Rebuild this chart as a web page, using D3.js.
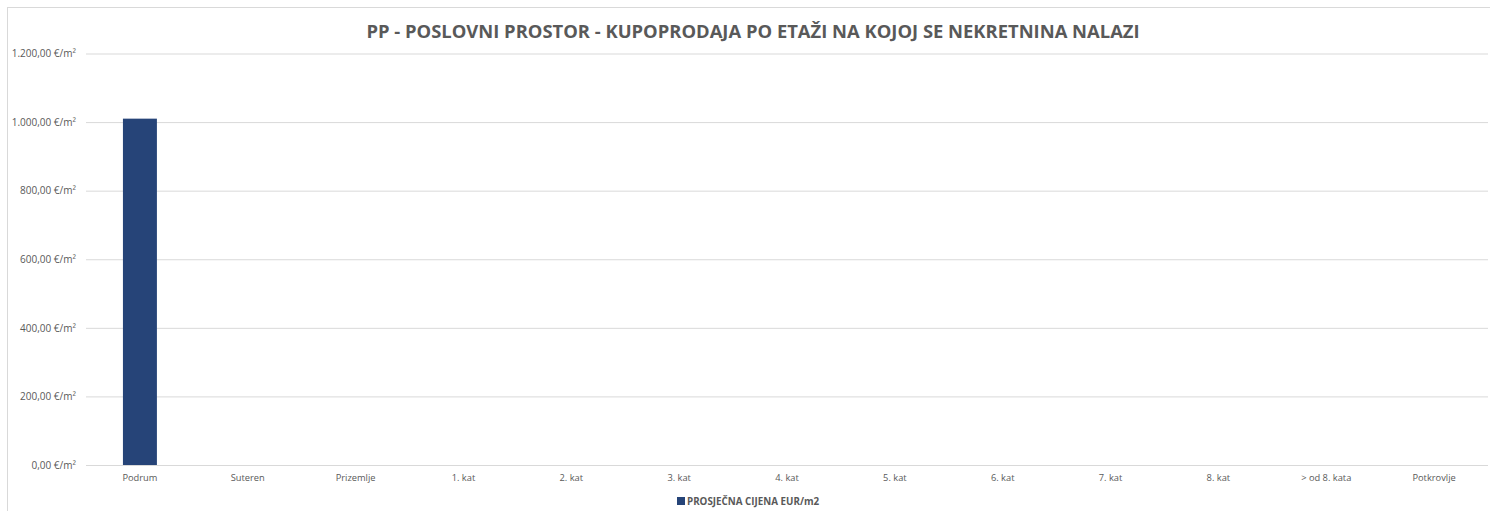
<!DOCTYPE html>
<html lang="hr">
<head>
    <meta charset="UTF-8" />
    <title>PP - Poslovni prostor - kupoprodaja po etaži</title>
    <script src="https://d3js.org/d3.v7.min.js"></script>
    <style>
        body { margin: 0; background: #fff; }
        text { font-family: "Open Sans", "Noto Sans", sans-serif; }
    </style>
</head>
<body>
    <script>
        // floors and average price (EUR/m2)
        var categories = ["Podrum", "Suteren", "Prizemlje", "1. kat", "2. kat", "3. kat", "4. kat",
            "5. kat", "6. kat", "7. kat", "8. kat", "> od 8. kata", "Potkrovlje"];
        var values = [1010, 0, 0, 0, 0, 0, 0, 0, 0, 0, 0, 0, 0];
        var yTicks = [0, 200, 400, 600, 800, 1000, 1200];
        var seriesName = "PROSJEČNA CIJENA EUR/m2";
        var title = "PP - POSLOVNI PROSTOR - KUPOPRODAJA PO ETAŽI NA KOJOJ SE NEKRETNINA NALAZI";

        var w = 1490;
        var h = 511;
        var plotLeft = 86, plotRight = 1488, plotTop = 53.5, plotBottom = 465;

        var data = categories.map(function (c, i) { return { cat: c, val: values[i] }; });

        var svg = d3.select("body").append("svg")
            .attr("width", w)
            .attr("height", h);

        // chart frame
        svg.append("rect")
            .attr("x", 7.5).attr("y", 7.5)
            .attr("width", w).attr("height", h)
            .attr("fill", "none")
            .attr("stroke", "#d9d9d9");

        var xScale = d3.scaleBand()
            .domain(categories)
            .range([plotLeft, plotRight])
            .paddingInner(0.685)
            .paddingOuter(0.3425);

        var yScale = d3.scaleLinear()
            .domain([0, 1200])
            .range([plotBottom, plotTop]);

        var fmt = function (d) {
            var s = d3.format(",.2f")(d);
            return s.replace(/,/g, "#").replace(".", ",").replace(/#/g, ".") + " €/m²";
        };

        var yAxis = d3.axisLeft(yScale).tickValues(yTicks).tickSize(-(plotRight - plotLeft)).tickPadding(10).tickFormat(fmt);
        var gy = svg.append("g").attr("class", "y axis")
            .attr("transform", "translate(" + plotLeft + ",0)")
            .call(yAxis);
        gy.select(".domain").remove();
        gy.selectAll(".tick line").attr("stroke", "#d9d9d9");
        gy.selectAll(".tick text")
            .attr("fill", "#595959")
            .style("font-size", "10px");

        var xAxis = d3.axisBottom(xScale).tickSize(0).tickPadding(9);
        var gx = svg.append("g").attr("class", "x axis")
            .attr("transform", "translate(0," + plotBottom + ")")
            .call(xAxis);
        gx.select(".domain").remove();
        gx.selectAll(".tick text")
            .attr("fill", "#595959")
            .style("font-size", "9.3px");

        svg.selectAll("rect.bar")
            .data(data)
            .enter()
            .append("rect")
            .attr("class", "bar")
            .attr("x", function (d) { return xScale(d.cat); })
            .attr("y", function (d) { return yScale(d.val); })
            .attr("width", xScale.bandwidth())
            .attr("height", function (d) { return plotBottom - yScale(d.val); })
            .attr("fill", "#264478");

        // baseline over bars
        svg.append("line")
            .attr("x1", plotLeft).attr("x2", plotRight)
            .attr("y1", plotBottom + 0.5).attr("y2", plotBottom + 0.5)
            .attr("stroke", "#d9d9d9");

        svg.append("text")
            .attr("x", 753)
            .attr("y", 38)
            .attr("text-anchor", "middle")
            .attr("fill", "#595959")
            .style("font-size", "18.4px")
            .style("font-weight", "bold")
            .text(title);

        // legend
        var lg = svg.append("g").attr("transform", "translate(677,497)");
        lg.append("rect").attr("width", 8).attr("height", 8).attr("fill", "#264478");
        lg.append("text")
            .attr("x", 10).attr("y", 7.5)
            .attr("fill", "#595959")
            .style("font-size", "9.8px")
            .style("font-weight", "bold")
            .text(seriesName);
    </script>
</body>
</html>
